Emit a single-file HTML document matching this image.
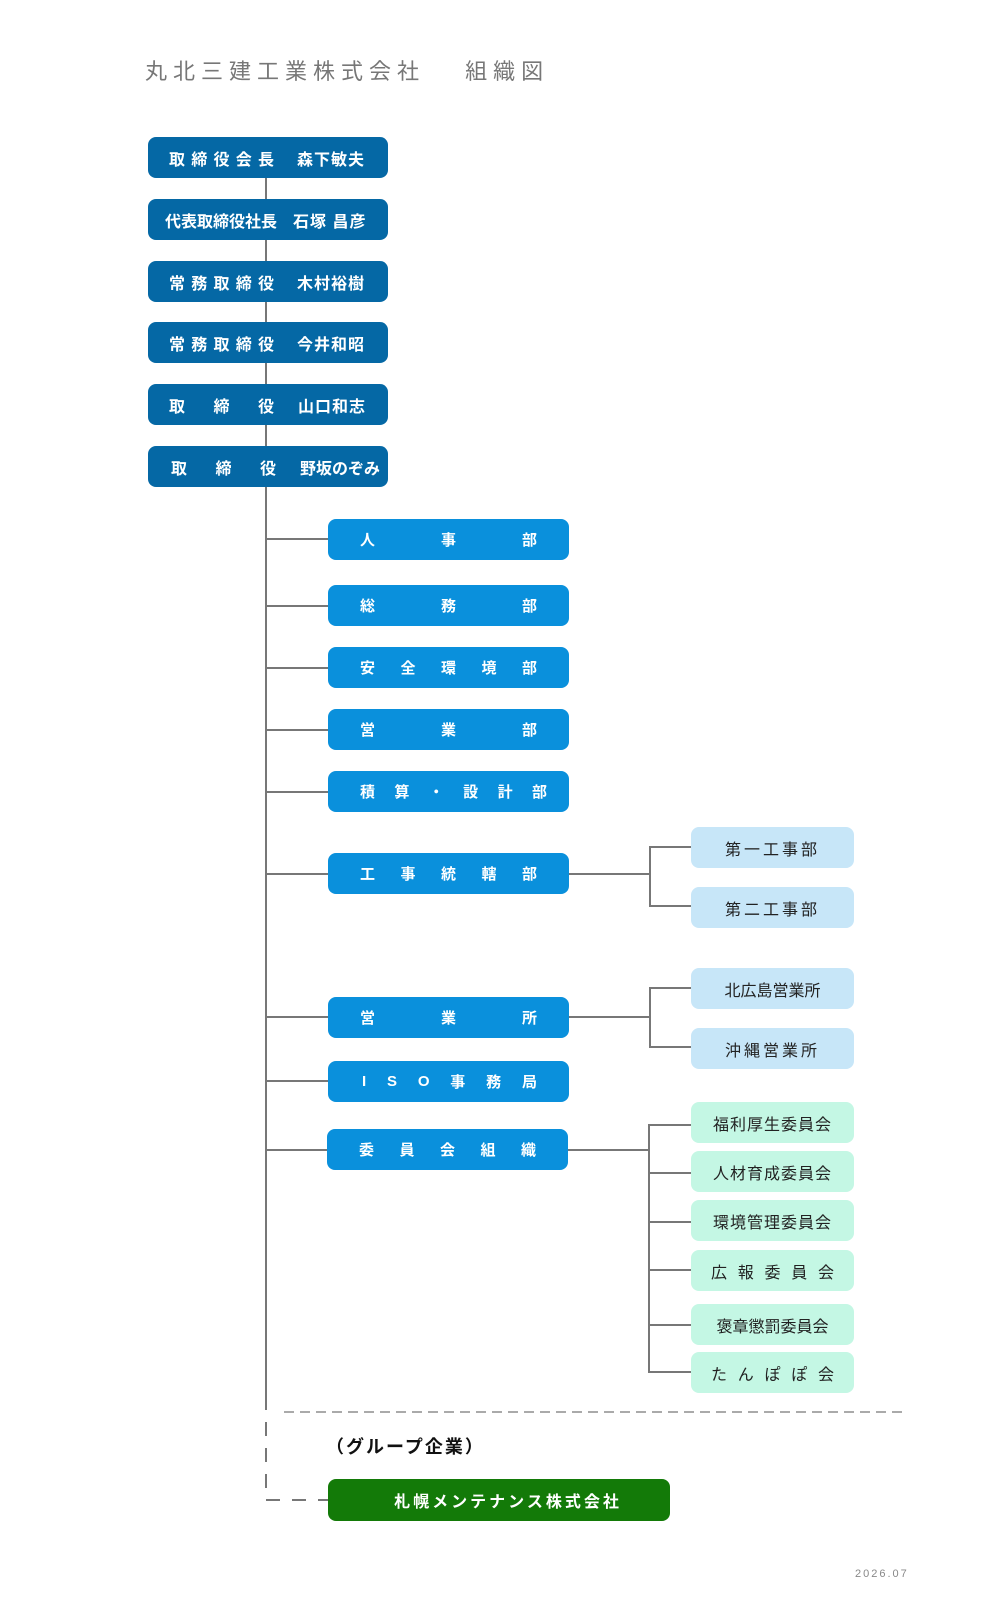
<!DOCTYPE html>
<html><head><meta charset="utf-8"><style>
body{margin:0;background:#fff;width:1008px;height:1621px;position:relative;overflow:hidden;font-family:"Liberation Sans","Noto Sans CJK JP",sans-serif}
.a{position:absolute}
.ex{position:absolute;left:148px;width:240px;height:41px;background:#0568a5;border-radius:8px;color:#fff;font-weight:bold;font-size:16px}
.ex .l{position:absolute;left:21px;width:105px;top:0;height:41px;display:flex;justify-content:space-between;align-items:center}
.ex .r{position:absolute;left:149px;top:0;height:41px;display:flex;align-items:center;letter-spacing:1px}
.dp{position:absolute;left:328px;width:241px;height:41px;background:#0a90dc;border-radius:8px;color:#fff;font-weight:bold;font-size:15px;display:flex;justify-content:space-between;align-items:center;box-sizing:border-box}
.sb{position:absolute;left:691px;width:163px;height:41px;border-radius:8px;color:#222;font-size:16px;display:flex;align-items:center;justify-content:center;letter-spacing:3px}
.bl{background:#c7e6f8}.mt{background:#c4f7e4}
.h{position:absolute;height:2px;background:#777}
.v{position:absolute;width:2px;background:#777}
</style></head><body>
<div class="a" style="left:145px;top:54px;font-size:22px;color:#777;letter-spacing:6px;white-space:nowrap">丸北三建工業株式会社　 組織図</div>

<div class="v" style="left:265px;top:178px;height:1218px"></div>

<div class="ex" style="top:137px"><div class="l"><span>取</span><span>締</span><span>役</span><span>会</span><span>長</span></div><div class="r">森下敏夫</div></div>
<div class="ex" style="top:199px"><div class="l" style="left:17px;width:112px;letter-spacing:0">代表取締役社長</div><div class="r" style="left:145px">石塚 昌彦</div></div>
<div class="ex" style="top:261px"><div class="l"><span>常</span><span>務</span><span>取</span><span>締</span><span>役</span></div><div class="r">木村裕樹</div></div>
<div class="ex" style="top:322px"><div class="l"><span>常</span><span>務</span><span>取</span><span>締</span><span>役</span></div><div class="r">今井和昭</div></div>
<div class="ex" style="top:384px"><div class="l"><span>取</span><span>締</span><span>役</span></div><div class="r" style="left:150px">山口和志</div></div>
<div class="ex" style="top:446px"><div class="l" style="left:23px"><span>取</span><span>締</span><span>役</span></div><div class="r" style="left:152px;letter-spacing:0">野坂のぞみ</div></div>

<div class="h" style="left:266px;width:62px;top:538px"></div>
<div class="dp" style="top:519px;padding:0 32px"><span>人</span><span>事</span><span>部</span></div>
<div class="h" style="left:266px;width:62px;top:605px"></div>
<div class="dp" style="top:585px;padding:0 32px"><span>総</span><span>務</span><span>部</span></div>
<div class="h" style="left:266px;width:62px;top:667px"></div>
<div class="dp" style="top:647px;padding:0 32px"><span>安</span><span>全</span><span>環</span><span>境</span><span>部</span></div>
<div class="h" style="left:266px;width:62px;top:729px"></div>
<div class="dp" style="top:709px;padding:0 32px"><span>営</span><span>業</span><span>部</span></div>
<div class="h" style="left:266px;width:62px;top:791px"></div>
<div class="dp" style="top:771px;padding:0 22px 0 32px"><span>積</span><span>算</span><span>・</span><span>設</span><span>計</span><span>部</span></div>
<div class="h" style="left:266px;width:62px;top:873px"></div>
<div class="dp" style="top:853px;padding:0 32px 0 32px"><span>工</span><span>事</span><span>統</span><span>轄</span><span>部</span></div>
<div class="h" style="left:266px;width:62px;top:1016px"></div>
<div class="dp" style="top:997px;padding:0 32px"><span>営</span><span>業</span><span>所</span></div>
<div class="h" style="left:266px;width:62px;top:1080px"></div>
<div class="dp" style="top:1061px;padding:0 32px 0 34px"><span>I</span><span>S</span><span>O</span><span>事</span><span>務</span><span>局</span></div>
<div class="h" style="left:266px;width:62px;top:1149px"></div>
<div class="dp" style="top:1129px;left:327px;padding:0 32px 0 32px"><span>委</span><span>員</span><span>会</span><span>組</span><span>織</span></div>

<div class="h" style="left:569px;width:81px;top:873px"></div>
<div class="v" style="left:649px;top:846px;height:61px"></div>
<div class="h" style="left:649px;width:42px;top:846px"></div>
<div class="h" style="left:649px;width:42px;top:905px"></div>
<div class="sb bl" style="top:827px">第一工事部</div>
<div class="sb bl" style="top:887px">第二工事部</div>

<div class="h" style="left:569px;width:81px;top:1016px"></div>
<div class="v" style="left:649px;top:987px;height:61px"></div>
<div class="h" style="left:649px;width:42px;top:987px"></div>
<div class="h" style="left:649px;width:42px;top:1046px"></div>
<div class="sb bl" style="top:968px;letter-spacing:0">北広島営業所</div>
<div class="sb bl" style="top:1028px">沖縄営業所</div>

<div class="h" style="left:568px;width:81px;top:1149px"></div>
<div class="v" style="left:648px;top:1124px;height:249px"></div>
<div class="h" style="left:648px;width:43px;top:1124px"></div>
<div class="h" style="left:648px;width:43px;top:1172px"></div>
<div class="h" style="left:648px;width:43px;top:1221px"></div>
<div class="h" style="left:648px;width:43px;top:1269px"></div>
<div class="h" style="left:648px;width:43px;top:1324px"></div>
<div class="h" style="left:648px;width:43px;top:1371px"></div>
<div class="sb mt" style="top:1102px;letter-spacing:1px">福利厚生委員会</div>
<div class="sb mt" style="top:1151px;letter-spacing:1px">人材育成委員会</div>
<div class="sb mt" style="top:1200px;letter-spacing:1px">環境管理委員会</div>
<div class="sb mt" style="top:1250px;justify-content:space-between;padding:0 20px;box-sizing:border-box;letter-spacing:0"><span>広</span><span>報</span><span>委</span><span>員</span><span>会</span></div>
<div class="sb mt" style="top:1304px;letter-spacing:0">褒章懲罰委員会</div>
<div class="sb mt" style="top:1352px;justify-content:space-between;padding:0 20px;box-sizing:border-box;letter-spacing:0"><span>た</span><span>ん</span><span>ぽ</span><span>ぽ</span><span>会</span></div>

<svg class="a" style="left:0;top:0" width="1008" height="1621">
<line x1="284" y1="1412" x2="908" y2="1412" stroke="#aaa" stroke-width="2" stroke-dasharray="10,6"/>
<path d="M266 1396 V1500 H328" fill="none" stroke="#777" stroke-width="2" stroke-dasharray="14,12"/>
</svg>
<div class="a" style="left:326px;top:1433px;font-size:18px;font-weight:bold;color:#111;letter-spacing:2px">（グループ企業）</div>
<div class="a" style="left:328px;top:1479px;width:342px;height:42px;background:#137a08;border-radius:8px;color:#fff;font-weight:bold;font-size:16px;display:flex;align-items:center;justify-content:center;letter-spacing:3px;padding-left:18px;box-sizing:border-box">札幌メンテナンス株式会社</div>
<div class="a" style="left:855px;top:1568px;font-size:11px;color:#888;letter-spacing:2px">2026.07</div>
</body></html>
